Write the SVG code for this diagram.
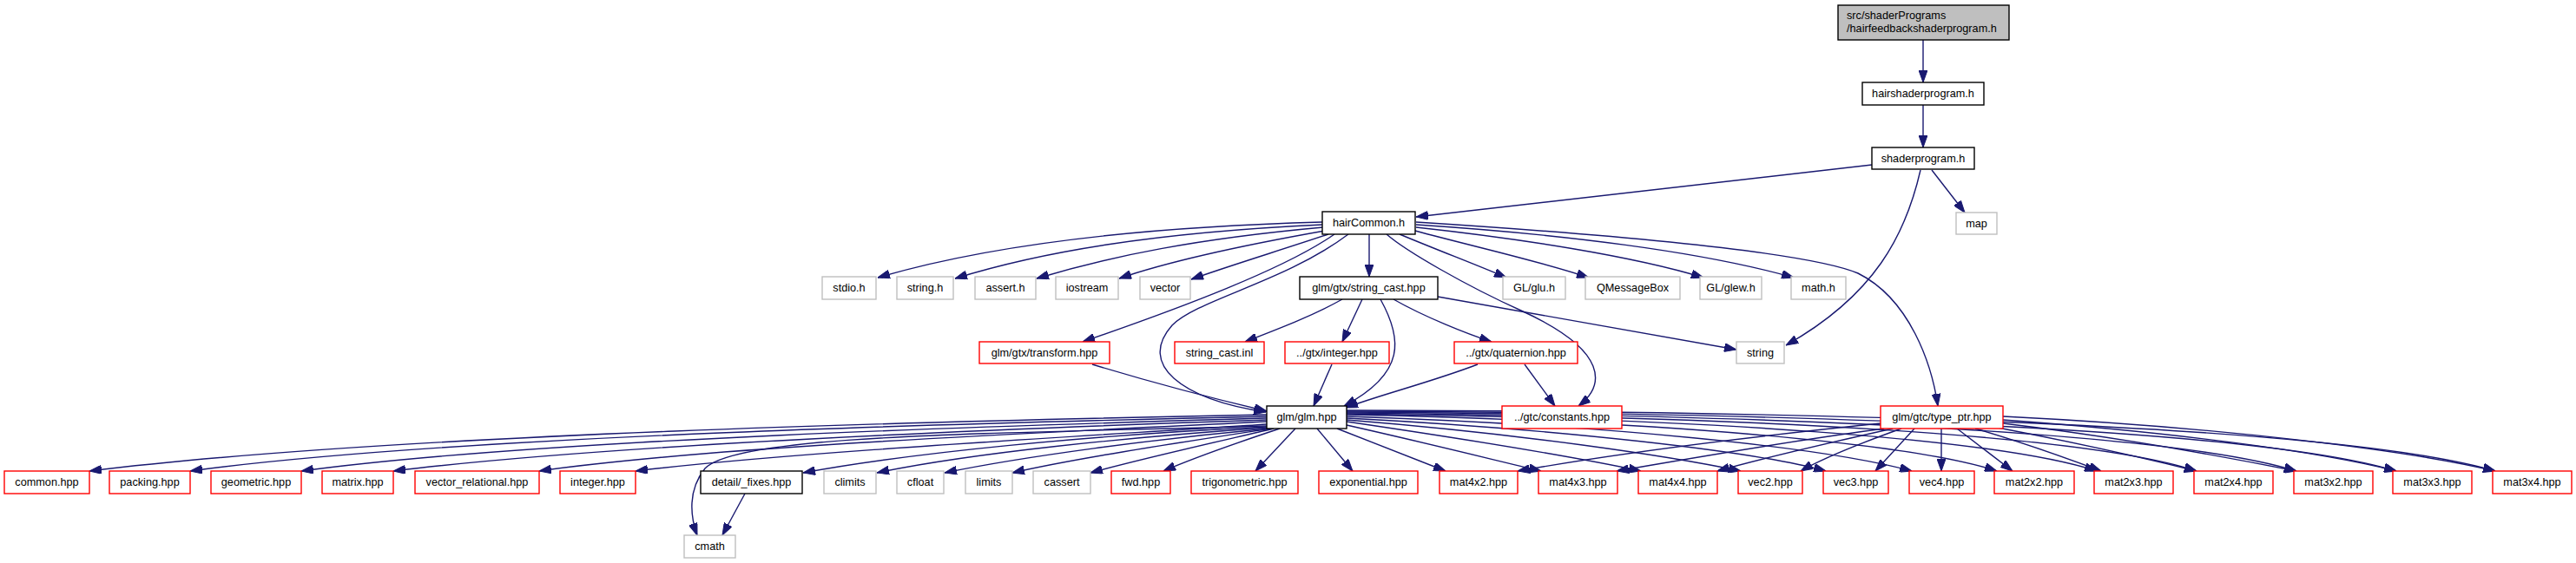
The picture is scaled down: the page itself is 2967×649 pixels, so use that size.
<svg xmlns="http://www.w3.org/2000/svg" width="2967" height="649" viewBox="0 0 2967 649">
<style>
rect{fill:#fff;stroke-width:1.4}
.b{stroke:#000}
.g{stroke:#bfbfbf}
.r{stroke:#ff0000}
.root{fill:#bfbfbf;stroke:#000}
text{font-family:"Liberation Sans",Arial,sans-serif;font-size:12.7px;fill:#000;text-anchor:middle}
.e path{fill:none;stroke:#191970;stroke-width:1.4;marker-end:url(#a)}
</style>
<defs>
<marker id="a" markerUnits="userSpaceOnUse" markerWidth="14" markerHeight="10" refX="14" refY="5" orient="auto" viewBox="0 0 14 10"><path d="M0,0L14,5L0,10z" fill="#191970" stroke="#191970" stroke-width="1"/></marker>
</defs>
<rect width="2967" height="649" style="fill:#fff;stroke:none"/>
<g class="e">
<path d="M2215,46 L2215,95"/>
<path d="M2215,121 L2215,170"/>
<path d="M2156,190 C1950,212 1780,232 1631,250"/>
<path d="M2225,196 L2263,245"/>
<path d="M2212,196 C2195,270 2160,340 2057,398"/>
<path d="M1523,256 C1300,262 1130,285 1011,320"/>
<path d="M1523,259 C1330,268 1200,290 1100,321"/>
<path d="M1524,262 C1380,275 1280,295 1194,321"/>
<path d="M1526,266 C1430,283 1350,300 1289,321"/>
<path d="M1530,270 C1470,290 1420,305 1372,322"/>
<path d="M1537,270 C1480,310 1360,355 1247,394"/>
<path d="M1553,270 C1480,325 1380,345 1350,375 C1310,420 1360,460 1458,475"/>
<path d="M1577,270 L1577,319"/>
<path d="M1597,270 C1620,290 1690,330 1752,358 C1855,405 1848,445 1818,468"/>
<path d="M1612,270 C1660,290 1700,305 1735,320"/>
<path d="M1630,266 C1700,285 1770,300 1830,320"/>
<path d="M1631,262 C1750,275 1880,295 1962,320"/>
<path d="M1631,259 C1800,270 1960,290 2066,320"/>
<path d="M1631,256 C1850,270 2080,290 2140,315 C2200,345 2225,420 2232,468"/>
<path d="M1546,345 C1510,365 1470,380 1434,394"/>
<path d="M1569,345 L1546,394"/>
<path d="M1590,345 C1615,390 1620,430 1548,468"/>
<path d="M1605,345 C1640,365 1690,385 1718,394"/>
<path d="M1656,342 C1780,365 1900,385 2000,403"/>
<path d="M1258,420 C1340,445 1400,460 1459,474"/>
<path d="M1534,420 L1513,468"/>
<path d="M1702,420 C1650,440 1590,455 1550,470"/>
<path d="M1756,420 L1791,468"/>
<path d="M1459,478 C1100,485 450,500 103,543"/>
<path d="M1459,480 C1150,487 520,502 219,543"/>
<path d="M1459,482 C1180,490 620,506 347,543"/>
<path d="M1459,484 C1220,492 720,510 453,543"/>
<path d="M1459,486 C1260,496 820,514 621,543"/>
<path d="M1459,489 C1300,500 920,520 732,543"/>
<path d="M1459,491 C1150,500 850,500 812,540 C792,565 795,595 803,617"/>
<path d="M1459,492 C1250,502 1050,522 925,545"/>
<path d="M1460,493 C1300,504 1120,522 1010,545"/>
<path d="M1462,494 C1330,506 1180,526 1088,545"/>
<path d="M1464,494 C1360,510 1240,528 1166,545"/>
<path d="M1467,494 C1390,512 1310,530 1256,545"/>
<path d="M1474,494 C1420,512 1370,530 1340,543"/>
<path d="M1492,494 L1446,543"/>
<path d="M1517,494 L1558,543"/>
<path d="M1540,494 L1665,543"/>
<path d="M1551,490 C1640,510 1720,530 1775,543"/>
<path d="M1551,486 C1680,505 1820,528 1890,543"/>
<path d="M1551,484 C1750,500 1920,525 2005,543"/>
<path d="M1551,482 C1800,495 2020,520 2103,543"/>
<path d="M1551,480 C1850,490 2100,515 2202,543"/>
<path d="M1551,478 C1900,485 2200,510 2300,543"/>
<path d="M1551,477 C1950,482 2300,505 2415,543"/>
<path d="M1551,476 C2000,480 2400,500 2530,543"/>
<path d="M1551,475 C2050,478 2500,498 2645,543"/>
<path d="M1551,474 C2100,476 2600,495 2760,543"/>
<path d="M1551,473 C2150,474 2700,492 2874,543"/>
<path d="M2166,488 C2000,505 1850,525 1748,543"/>
<path d="M2170,494 C2050,510 1950,528 1862,543"/>
<path d="M2180,494 C2100,512 2030,528 1978,543"/>
<path d="M2190,494 C2140,512 2100,528 2074,543"/>
<path d="M2205,494 L2160,543"/>
<path d="M2236,494 L2236,543"/>
<path d="M2254,494 L2318,543"/>
<path d="M2275,494 C2330,510 2380,528 2420,543"/>
<path d="M2296,492 C2390,510 2470,528 2530,543"/>
<path d="M2307,488 C2450,505 2570,528 2645,543"/>
<path d="M2307,484 C2500,498 2670,520 2760,543"/>
<path d="M2307,480 C2550,492 2770,518 2874,543"/>
<path d="M858,569 L832,617"/>
</g>
<g id="n_root"><rect class="root" x="2117" y="6" width="197" height="40"/><text x="2127" y="22" style="text-anchor:start">src/shaderPrograms</text><text x="2127" y="37" style="text-anchor:start">/hairfeedbackshaderprogram.h</text></g>
<g id="n_hairshaderprogram"><rect class="b" x="2145" y="95" width="140" height="26"/><text x="2215" y="112">hairshaderprogram.h</text></g>
<g id="n_shaderprogram"><rect class="b" x="2156" y="170" width="118" height="25"/><text x="2215" y="187">shaderprogram.h</text></g>
<g id="n_map"><rect class="g" x="2253" y="245" width="47" height="25"/><text x="2276.5" y="262">map</text></g>
<g id="n_hairCommon"><rect class="b" x="1523" y="244" width="107" height="26"/><text x="1576.5" y="261">hairCommon.h</text></g>
<g id="n_stdio"><rect class="g" x="947" y="319" width="62" height="26"/><text x="978" y="336">stdio.h</text></g>
<g id="n_stringh"><rect class="g" x="1033" y="319" width="65" height="26"/><text x="1065.5" y="336">string.h</text></g>
<g id="n_assert"><rect class="g" x="1123" y="319" width="70" height="26"/><text x="1158" y="336">assert.h</text></g>
<g id="n_iostream"><rect class="g" x="1216" y="319" width="72" height="26"/><text x="1252" y="336">iostream</text></g>
<g id="n_vector"><rect class="g" x="1313" y="319" width="58" height="26"/><text x="1342" y="336">vector</text></g>
<g id="n_string_cast"><rect class="b" x="1497" y="319" width="159" height="26"/><text x="1576.5" y="336">glm/gtx/string_cast.hpp</text></g>
<g id="n_glu"><rect class="g" x="1731" y="319" width="72" height="26"/><text x="1767" y="336">GL/glu.h</text></g>
<g id="n_qmessagebox"><rect class="g" x="1826" y="319" width="109" height="26"/><text x="1880.5" y="336">QMessageBox</text></g>
<g id="n_glew"><rect class="g" x="1958" y="319" width="71" height="26"/><text x="1993.5" y="336">GL/glew.h</text></g>
<g id="n_math"><rect class="g" x="2063" y="319" width="63" height="26"/><text x="2094.5" y="336">math.h</text></g>
<g id="n_transform"><rect class="r" x="1128" y="394" width="150" height="25"/><text x="1203" y="411">glm/gtx/transform.hpp</text></g>
<g id="n_string_cast_inl"><rect class="r" x="1353" y="394" width="103" height="25"/><text x="1404.5" y="411">string_cast.inl</text></g>
<g id="n_gtx_integer"><rect class="r" x="1480" y="394" width="120" height="25"/><text x="1540" y="411">../gtx/integer.hpp</text></g>
<g id="n_quaternion"><rect class="r" x="1675" y="394" width="142" height="25"/><text x="1746" y="411">../gtx/quaternion.hpp</text></g>
<g id="n_string"><rect class="g" x="2000" y="394" width="55" height="25"/><text x="2027.5" y="411">string</text></g>
<g id="n_glm"><rect class="b" x="1459" y="468" width="92" height="26"/><text x="1505" y="485">glm/glm.hpp</text></g>
<g id="n_constants"><rect class="r" x="1730" y="468" width="138" height="26"/><text x="1799" y="485">../gtc/constants.hpp</text></g>
<g id="n_type_ptr"><rect class="r" x="2166" y="468" width="141" height="26"/><text x="2236.5" y="485">glm/gtc/type_ptr.hpp</text></g>
<g id="n_common"><rect class="r" x="5" y="543" width="98" height="26"/><text x="54" y="560">common.hpp</text></g>
<g id="n_packing"><rect class="r" x="126" y="543" width="93" height="26"/><text x="172.5" y="560">packing.hpp</text></g>
<g id="n_geometric"><rect class="r" x="243" y="543" width="104" height="26"/><text x="295" y="560">geometric.hpp</text></g>
<g id="n_matrix"><rect class="r" x="371" y="543" width="82" height="26"/><text x="412" y="560">matrix.hpp</text></g>
<g id="n_vector_relational"><rect class="r" x="478" y="543" width="143" height="26"/><text x="549.5" y="560">vector_relational.hpp</text></g>
<g id="n_integer"><rect class="r" x="645" y="543" width="87" height="26"/><text x="688.5" y="560">integer.hpp</text></g>
<g id="n_fixes"><rect class="b" x="807" y="543" width="117" height="26"/><text x="865.5" y="560">detail/_fixes.hpp</text></g>
<g id="n_climits"><rect class="g" x="949" y="543" width="60" height="26"/><text x="979" y="560">climits</text></g>
<g id="n_cfloat"><rect class="g" x="1033" y="543" width="54" height="26"/><text x="1060" y="560">cfloat</text></g>
<g id="n_limits"><rect class="g" x="1112" y="543" width="54" height="26"/><text x="1139" y="560">limits</text></g>
<g id="n_cassert"><rect class="g" x="1190" y="543" width="66" height="26"/><text x="1223" y="560">cassert</text></g>
<g id="n_fwd"><rect class="r" x="1280" y="543" width="68" height="26"/><text x="1314" y="560">fwd.hpp</text></g>
<g id="n_trigonometric"><rect class="r" x="1372" y="543" width="123" height="26"/><text x="1433.5" y="560">trigonometric.hpp</text></g>
<g id="n_exponential"><rect class="r" x="1519" y="543" width="114" height="26"/><text x="1576" y="560">exponential.hpp</text></g>
<g id="n_mat4x2"><rect class="r" x="1658" y="543" width="90" height="26"/><text x="1703" y="560">mat4x2.hpp</text></g>
<g id="n_mat4x3"><rect class="r" x="1772" y="543" width="91" height="26"/><text x="1817.5" y="560">mat4x3.hpp</text></g>
<g id="n_mat4x4"><rect class="r" x="1887" y="543" width="91" height="26"/><text x="1932.5" y="560">mat4x4.hpp</text></g>
<g id="n_vec2"><rect class="r" x="2002" y="543" width="74" height="26"/><text x="2039" y="560">vec2.hpp</text></g>
<g id="n_vec3"><rect class="r" x="2100" y="543" width="75" height="26"/><text x="2137.5" y="560">vec3.hpp</text></g>
<g id="n_vec4"><rect class="r" x="2199" y="543" width="75" height="26"/><text x="2236.5" y="560">vec4.hpp</text></g>
<g id="n_mat2x2"><rect class="r" x="2297" y="543" width="92" height="26"/><text x="2343" y="560">mat2x2.hpp</text></g>
<g id="n_mat2x3"><rect class="r" x="2412" y="543" width="91" height="26"/><text x="2457.5" y="560">mat2x3.hpp</text></g>
<g id="n_mat2x4"><rect class="r" x="2527" y="543" width="91" height="26"/><text x="2572.5" y="560">mat2x4.hpp</text></g>
<g id="n_mat3x2"><rect class="r" x="2642" y="543" width="91" height="26"/><text x="2687.5" y="560">mat3x2.hpp</text></g>
<g id="n_mat3x3"><rect class="r" x="2756" y="543" width="91" height="26"/><text x="2801.5" y="560">mat3x3.hpp</text></g>
<g id="n_mat3x4"><rect class="r" x="2871" y="543" width="91" height="26"/><text x="2916.5" y="560">mat3x4.hpp</text></g>
<g id="n_cmath"><rect class="g" x="788" y="617" width="59" height="26"/><text x="817.5" y="634">cmath</text></g>
</svg>
